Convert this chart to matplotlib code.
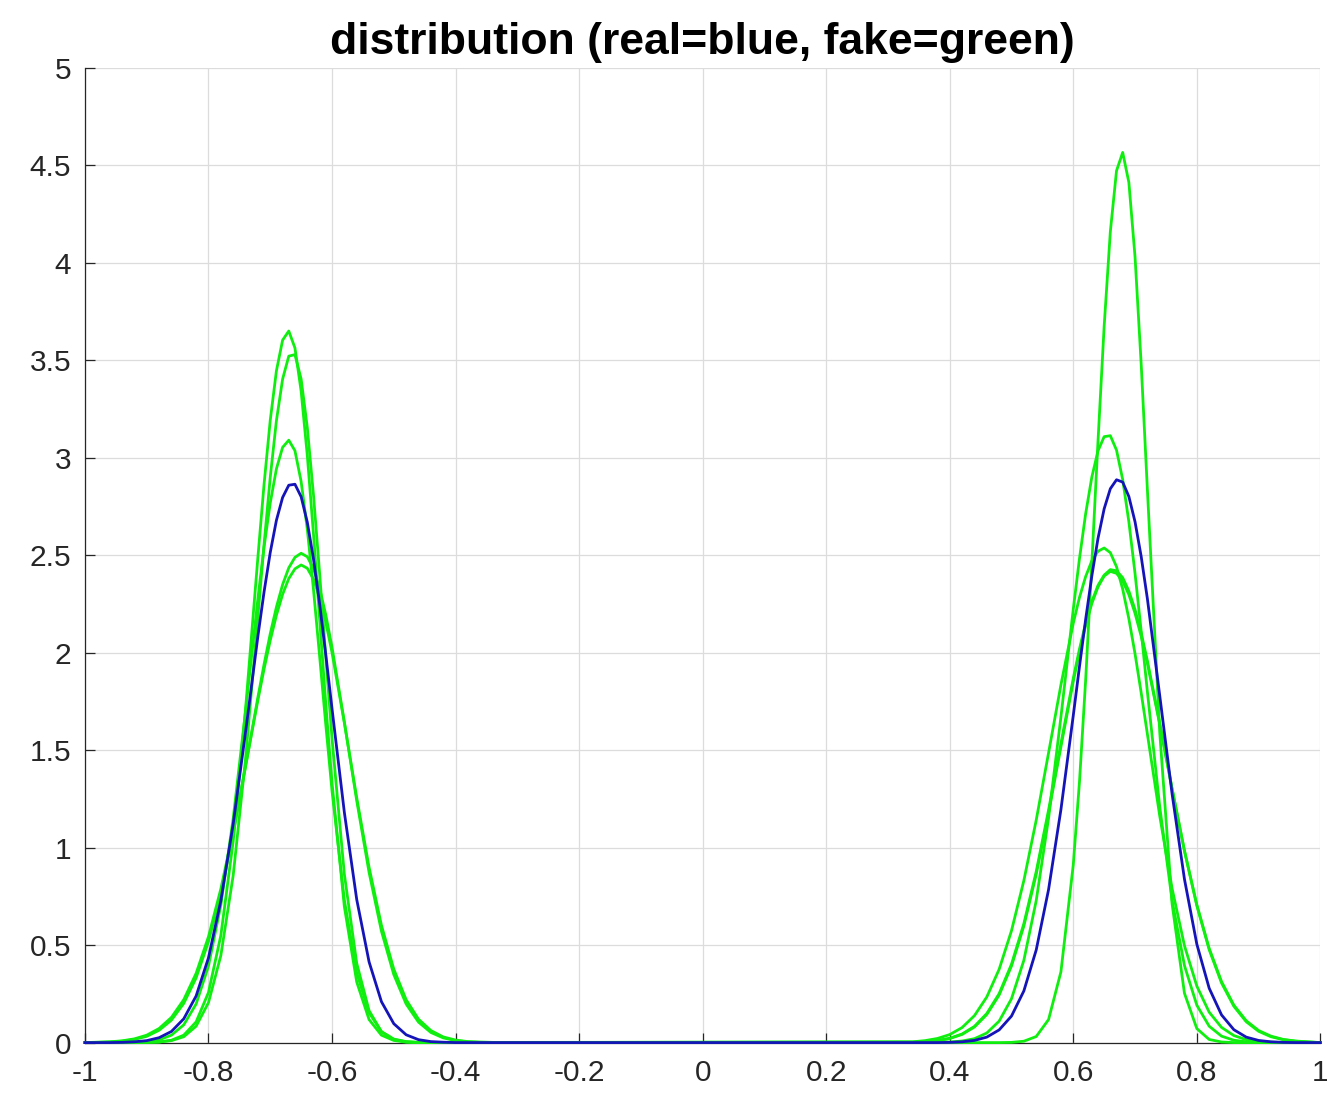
import matplotlib
matplotlib.use("Agg")
import matplotlib.pyplot as plt
import numpy as np

# x positions where the densities were read (finer around the peaks)
x_left = [-0.98, -0.96, -0.94, -0.92, -0.90, -0.88, -0.86, -0.84, -0.82, -0.80, -0.78, -0.76, -0.74,
          -0.72, -0.71, -0.70, -0.69, -0.68, -0.67, -0.66, -0.65, -0.64, -0.63, -0.62, -0.61, -0.60,
          -0.58, -0.56, -0.54, -0.52, -0.50, -0.48, -0.46, -0.44, -0.42, -0.40, -0.38, -0.36, -0.34]
x_right = [0.34, 0.36, 0.38, 0.40, 0.42, 0.44, 0.46, 0.48, 0.50, 0.52, 0.54, 0.56, 0.58, 0.60,
           0.61, 0.62, 0.63, 0.64, 0.65, 0.66, 0.67, 0.68, 0.69, 0.70, 0.71, 0.72,
           0.74, 0.76, 0.78, 0.80, 0.82, 0.84, 0.86, 0.88, 0.90, 0.92, 0.94, 0.96, 0.98]

# real distribution (blue)
real_left = [0.000, 0.000, 0.001, 0.004, 0.010, 0.025, 0.057, 0.122, 0.239, 0.435, 0.727, 1.121, 1.592,
             2.084, 2.312, 2.514, 2.679, 2.796, 2.859, 2.864, 2.800, 2.669, 2.481, 2.249, 1.987, 1.713,
             1.180, 0.734, 0.414, 0.210, 0.097, 0.040, 0.015, 0.005, 0.002, 0.000, 0.000, 0.000, 0.000]
real_right = [0.000, 0.000, 0.000, 0.001, 0.004, 0.011, 0.028, 0.065, 0.136, 0.265, 0.475, 0.785, 1.195, 1.678,
              1.928, 2.170, 2.393, 2.586, 2.738, 2.841, 2.887, 2.875, 2.801, 2.671, 2.492, 2.276,
              1.779, 1.275, 0.838, 0.505, 0.279, 0.142, 0.066, 0.028, 0.011, 0.004, 0.001, 0.000, 0.000]

# fake distributions (green)
fake1_left = [0.000, 0.000, 0.000, 0.000, 0.001, 0.003, 0.012, 0.038, 0.106, 0.257, 0.549, 1.032, 1.709,
              2.489, 2.864, 3.192, 3.446, 3.603, 3.650, 3.563, 3.342, 3.012, 2.608, 2.170, 1.734, 1.332,
              0.697, 0.311, 0.118, 0.038, 0.011, 0.002, 0.000, 0.000, 0.000, 0.000, 0.000, 0.000, 0.000]
fake1_right = [0.004, 0.010, 0.021, 0.041, 0.077, 0.138, 0.234, 0.376, 0.574, 0.831, 1.141, 1.486, 1.835, 2.151,
               2.283, 2.390, 2.471, 2.520, 2.537, 2.513, 2.441, 2.326, 2.174, 1.994, 1.793, 1.582,
               1.162, 0.790, 0.497, 0.290, 0.156, 0.078, 0.036, 0.015, 0.006, 0.002, 0.001, 0.000, 0.000]

fake2_left = [0.000, 0.000, 0.000, 0.000, 0.001, 0.003, 0.010, 0.030, 0.084, 0.205, 0.446, 0.857, 1.455,
              2.185, 2.556, 2.900, 3.190, 3.403, 3.521, 3.529, 3.404, 3.155, 2.809, 2.404, 1.976, 1.560,
              0.863, 0.407, 0.164, 0.056, 0.016, 0.004, 0.001, 0.000, 0.000, 0.000, 0.000, 0.000, 0.000]
fake2_right = [0.002, 0.004, 0.010, 0.021, 0.042, 0.080, 0.144, 0.244, 0.393, 0.598, 0.863, 1.177, 1.517, 1.853,
               2.004, 2.139, 2.252, 2.337, 2.393, 2.417, 2.407, 2.367, 2.298, 2.202, 2.083, 1.945,
               1.632, 1.300, 0.984, 0.707, 0.483, 0.313, 0.192, 0.112, 0.062, 0.033, 0.016, 0.008, 0.004]

fake3_left = [0.000, 0.000, 0.000, 0.002, 0.005, 0.014, 0.038, 0.091, 0.198, 0.393, 0.705, 1.149, 1.699,
              2.277, 2.542, 2.768, 2.943, 3.053, 3.090, 3.036, 2.878, 2.633, 2.324, 1.980, 1.628, 1.292,
              0.731, 0.358, 0.153, 0.056, 0.018, 0.005, 0.001, 0.000, 0.000, 0.000, 0.000, 0.000, 0.000]
fake3_right = [0.000, 0.000, 0.001, 0.003, 0.008, 0.020, 0.049, 0.110, 0.225, 0.422, 0.728, 1.151, 1.670, 2.223,
               2.482, 2.712, 2.900, 3.035, 3.108, 3.113, 3.039, 2.888, 2.671, 2.406, 2.109, 1.799,
               1.209, 0.729, 0.395, 0.192, 0.084, 0.033, 0.012, 0.004, 0.001, 0.000, 0.000, 0.000, 0.000]

fake4_left = [0.001, 0.003, 0.007, 0.016, 0.032, 0.063, 0.115, 0.201, 0.332, 0.518, 0.765, 1.070, 1.415,
              1.771, 1.940, 2.097, 2.234, 2.349, 2.435, 2.489, 2.510, 2.492, 2.431, 2.329, 2.193, 2.028,
              1.644, 1.241, 0.873, 0.572, 0.349, 0.198, 0.105, 0.052, 0.024, 0.010, 0.004, 0.002, 0.001]
fake4_right = [0.000, 0.000, 0.000, 0.000, 0.000, 0.000, 0.000, 0.000, 0.001, 0.007, 0.031, 0.118, 0.363, 0.912,
               1.336, 1.858, 2.456, 3.083, 3.675, 4.160, 4.472, 4.566, 4.412, 4.030, 3.477, 2.835,
               1.590, 0.711, 0.253, 0.072, 0.016, 0.003, 0.000, 0.000, 0.000, 0.000, 0.000, 0.000, 0.000]

fake5_left = [0.002, 0.004, 0.009, 0.019, 0.038, 0.072, 0.129, 0.220, 0.355, 0.543, 0.788, 1.085, 1.418,
              1.756, 1.916, 2.063, 2.192, 2.299, 2.380, 2.430, 2.450, 2.433, 2.377, 2.282, 2.155, 2.001,
              1.640, 1.256, 0.899, 0.602, 0.377, 0.220, 0.120, 0.062, 0.029, 0.013, 0.005, 0.002, 0.001]
fake5_right = [0.002, 0.004, 0.010, 0.022, 0.044, 0.083, 0.149, 0.251, 0.402, 0.610, 0.877, 1.193, 1.533, 1.868,
               2.018, 2.151, 2.262, 2.345, 2.398, 2.426, 2.420, 2.385, 2.316, 2.221, 2.100, 1.958,
               1.638, 1.303, 0.983, 0.703, 0.477, 0.306, 0.186, 0.107, 0.058, 0.030, 0.015, 0.007, 0.003]

x_ticks = [-1, -0.8, -0.6, -0.4, -0.2, 0, 0.2, 0.4, 0.6, 0.8, 1]
x_ticklabels = ['-1', '-0.8', '-0.6', '-0.4', '-0.2', '0', '0.2', '0.4', '0.6', '0.8', '1']
y_ticks = [0, 0.5, 1, 1.5, 2, 2.5, 3, 3.5, 4, 4.5, 5]
y_ticklabels = ['0', '0.5', '1', '1.5', '2', '2.5', '3', '3.5', '4', '4.5', '5']

plt.rcParams['font.family'] = ['Liberation Sans', 'DejaVu Sans']

x = np.array([-1] + x_left + x_right + [1])

def full(left, right):
    return np.array([0] + left + right + [0])

fakes = [(fake1_left, fake1_right), (fake2_left, fake2_right), (fake3_left, fake3_right),
         (fake4_left, fake4_right), (fake5_left, fake5_right)]

fig = plt.figure(figsize=(13.27, 10.94), dpi=100)
ax = fig.add_axes([0.064, 0.047, 0.931, 0.891])

for l, r in fakes:
    ax.plot(x, full(l, r), color='#10ee10', lw=2.0, clip_on=False, zorder=3,
            solid_joinstyle='round')
ax.plot(x, full(real_left, real_right), color='#1414b8', lw=2.0, clip_on=False, zorder=4,
        solid_joinstyle='round')

ax.set_xlim(-1, 1)
ax.set_ylim(0, 5)
ax.set_xticks(x_ticks)
ax.set_xticklabels(x_ticklabels)
ax.set_yticks(y_ticks)
ax.set_yticklabels(y_ticklabels)
ax.grid(True, color='#dcdcdc', lw=0.9)
ax.set_axisbelow(True)
for s in ['top', 'right']:
    ax.spines[s].set_visible(False)
for s in ['left', 'bottom']:
    ax.spines[s].set_color('#262626')
    ax.spines[s].set_linewidth(0.9)
ax.tick_params(direction='in', length=7, width=0.9, colors='#262626', labelsize=21.5)
ax.tick_params(axis='x', pad=12)
ax.tick_params(axis='y', pad=10)

ax.set_title('distribution (real=blue, fake=green)', fontsize=32, fontweight='bold', pad=10)

fig.savefig('out.png', dpi=100)
